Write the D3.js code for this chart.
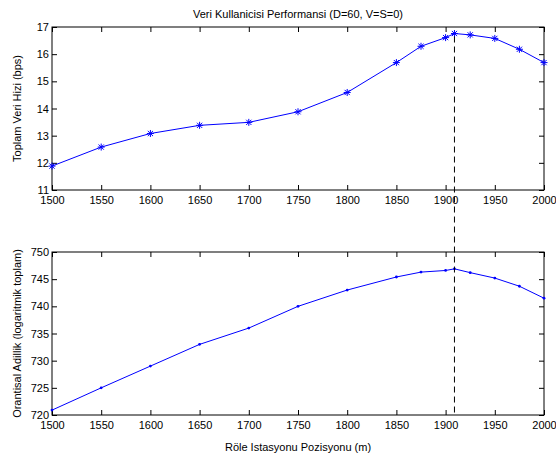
<!DOCTYPE html>
<html>
<head>
<meta charset="utf-8">
<script src="https://cdn.jsdelivr.net/npm/d3@7"></script>
<style>
  body { margin: 0; background: #fff; }
  svg { display: block; font-family: "Liberation Sans", Arial, sans-serif; }
  .tick text { font-size: 11px; fill: #000; }
  .tick line { stroke: #000; }
</style>
</head>
<body>
<div id="chart"></div>
<script>
// station positions (m) and the two measured series
const positions = [1500, 1550, 1600, 1650, 1700, 1750, 1800, 1850, 1875, 1900, 1909, 1925, 1950, 1975, 2000];
const totalRate = [11.88, 12.58, 13.08, 13.38, 13.49, 13.88, 14.59, 15.69, 16.29, 16.61, 16.76, 16.71, 16.58, 16.18, 15.69];
const fairness = [720.9, 725.0, 729.0, 733.0, 736.0, 740.0, 743.0, 745.4, 746.3, 746.6, 746.9, 746.2, 745.2, 743.7, 741.5];
const peakPos = 1909;
const xTicks = [1500, 1550, 1600, 1650, 1700, 1750, 1800, 1850, 1900, 1950, 2000];
const rateTicks = [11, 12, 13, 14, 15, 16, 17];
const fairTicks = [720, 725, 730, 735, 740, 745, 750];

const W = 556, H = 457;
const left = 52, right = 544;
const topPanel = { y0: 27, y1: 190 };
const botPanel = { y0: 252, y1: 415 };

const svg = d3.select("#chart").append("svg")
  .attr("width", W).attr("height", H);
svg.append("rect").attr("width", W).attr("height", H).attr("fill", "#fff");

const x = d3.scaleLinear().domain([1500, 2000]).range([left, right]);

function drawPanel(panel, domain, yTicks, values, marker, ylabel) {
  const y = d3.scaleLinear().domain(domain).range([panel.y1, panel.y0]);
  const g = svg.append("g");

  g.append("g")
    .attr("transform", `translate(0,${panel.y1})`)
    .call(d3.axisBottom(x).tickValues(xTicks).tickFormat(d3.format("d"))
      .tickSizeInner(-5).tickSizeOuter(0).tickPadding(6))
    .call(a => a.select(".domain").remove());
  g.append("g")
    .attr("transform", `translate(0,${panel.y0})`)
    .call(d3.axisTop(x).tickValues(xTicks).tickFormat("")
      .tickSizeInner(-5).tickSizeOuter(0))
    .call(a => a.select(".domain").remove());
  g.append("g")
    .attr("transform", `translate(${left},0)`)
    .call(d3.axisLeft(y).tickValues(yTicks).tickFormat(d3.format("d"))
      .tickSizeInner(-5).tickSizeOuter(0).tickPadding(3))
    .call(a => a.select(".domain").remove());
  g.append("g")
    .attr("transform", `translate(${right},0)`)
    .call(d3.axisRight(y).tickValues(yTicks).tickFormat("")
      .tickSizeInner(-5).tickSizeOuter(0))
    .call(a => a.select(".domain").remove());

  g.append("rect")
    .attr("x", left).attr("y", panel.y0)
    .attr("width", right - left).attr("height", panel.y1 - panel.y0)
    .attr("fill", "none").attr("stroke", "#000").attr("stroke-width", 1);

  const pts = positions.map((p, i) => [p, values[i]]);
  g.append("path")
    .datum(pts)
    .attr("fill", "none")
    .attr("stroke", "#0000ff")
    .attr("stroke-width", 1)
    .attr("d", d3.line().x(d => x(d[0])).y(d => y(d[1])));

  const m = g.selectAll(".mk").data(pts).join("g")
    .attr("class", "mk")
    .attr("transform", d => `translate(${x(d[0])},${y(d[1])})`);
  if (marker === "star") {
    const a = 3.5, b = 2.6;
    m.append("path")
      .attr("d", `M${-a},0H${a}M0,${-a}V${a}M${-b},${-b}L${b},${b}M${-b},${b}L${b},${-b}`)
      .attr("stroke", "#0000ff").attr("stroke-width", 1).attr("fill", "none");
  } else {
    m.append("circle").attr("r", 1.4).attr("fill", "#0000ff");
  }

  svg.append("text")
    .attr("transform", `translate(17,${(panel.y0 + panel.y1) / 2}) rotate(-90)`)
    .attr("text-anchor", "middle")
    .attr("dy", "0.35em")
    .style("font-size", "11px")
    .text(ylabel);

  return y;
}

const yRate = drawPanel(topPanel, [11, 17], rateTicks, totalRate, "star", "Toplam Veri Hizi (bps)");
const yFair = drawPanel(botPanel, [720, 750], fairTicks, fairness, "dot", "Orantisal Adillik (logaritmik toplam)");

// vertical dashed marker at the optimum position
const peakIdx = positions.indexOf(peakPos);
svg.append("line")
  .attr("x1", x(peakPos)).attr("x2", x(peakPos))
  .attr("y1", yRate(totalRate[peakIdx]) + 3)
  .attr("y2", botPanel.y1)
  .attr("stroke", "#000")
  .attr("stroke-width", 1)
  .attr("stroke-dasharray", "6,4");

svg.append("text")
  .attr("x", (left + right) / 2).attr("y", 18)
  .attr("text-anchor", "middle")
  .style("font-size", "11px")
  .text("Veri Kullanicisi Performansi (D=60, V=S=0)");

svg.append("text")
  .attr("x", (left + right) / 2).attr("y", 451)
  .attr("text-anchor", "middle")
  .style("font-size", "11px")
  .text("Röle Istasyonu Pozisyonu (m)");
</script>
</body>
</html>
